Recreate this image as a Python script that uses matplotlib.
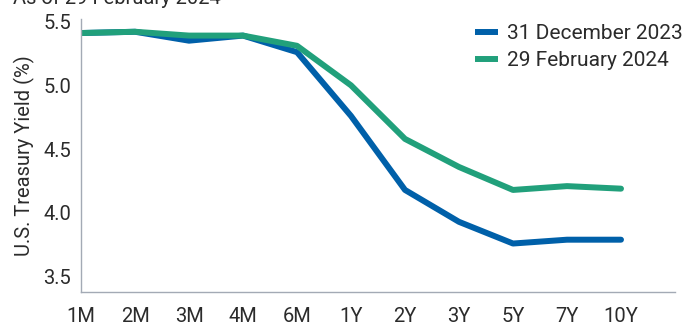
import matplotlib.pyplot as plt
import numpy as np

plt.rcParams['font.family'] = ['Roboto', 'DejaVu Sans']

tenors = ['1M', '2M', '3M', '4M', '6M', '1Y', '2Y', '3Y', '5Y', '7Y', '10Y']
dec_2023 = [5.41, 5.42, 5.35, 5.39, 5.26, 4.76, 4.18, 3.93, 3.76, 3.79, 3.79]
feb_2024 = [5.41, 5.42, 5.39, 5.39, 5.31, 5.00, 4.58, 4.36, 4.18, 4.21, 4.19]

blue = '#0060A9'
green = '#21A07B'
text_col = '#2B2B2B'
spine_col = '#A3AAB5'

fig = plt.figure(figsize=(6.98, 3.26), dpi=100)
ax = fig.add_axes([81 / 698, 1 - 292 / 326, (675 - 81) / 698, (292 - 19) / 326])

x = np.arange(len(tenors))
ax.plot(x, dec_2023, color=blue, lw=4.3, solid_capstyle='round', solid_joinstyle='round',
        label='31 December 2023')
ax.plot(x, feb_2024, color=green, lw=4.3, solid_capstyle='round', solid_joinstyle='round',
        label='29 February 2024')

ax.set_xlim(0, len(tenors))
ax.set_ylim(3.38, 5.52)
ax.set_xticks(x)
ax.set_xticklabels(tenors)
ax.set_yticks([3.5, 4.0, 4.5, 5.0, 5.5])
ax.set_yticklabels(['3.5', '4.0', '4.5', '5.0', '5.5'])
ax.tick_params(length=0, labelsize=14.5, colors=text_col, pad=7)
ax.tick_params(axis='x', pad=11)

for side in ['top', 'right']:
    ax.spines[side].set_visible(False)
for side in ['left', 'bottom']:
    ax.spines[side].set_color(spine_col)
    ax.spines[side].set_linewidth(1.0)

ax.set_ylabel('U.S. Treasury Yield (%)', fontsize=14.5, color=text_col, labelpad=6)

leg = ax.legend(loc='upper left', bbox_to_anchor=(0.632, 1.05), frameon=False, fontsize=15,
                handlelength=1.1, handletextpad=0.45, labelspacing=0.4, labelcolor=text_col)
for line in leg.get_lines():
    line.set_solid_capstyle('butt')

fig.text(13 / 698, 1 - 8 / 326, 'As of 29 February 2024', fontsize=14.5, color=text_col,
         ha='left', va='bottom')

fig.savefig('out.png', dpi=100)
